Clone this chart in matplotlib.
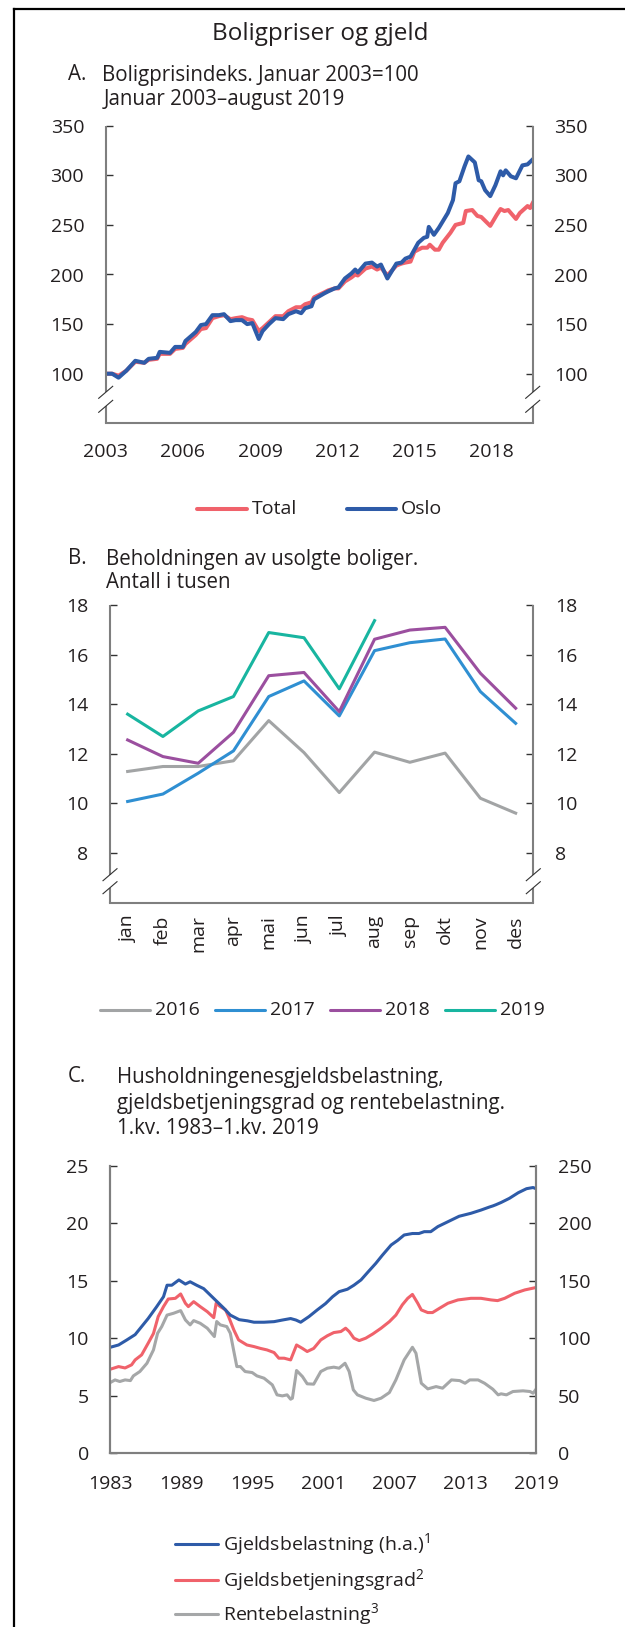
import matplotlib
matplotlib.use("Agg")
import matplotlib.pyplot as plt
from matplotlib.lines import Line2D

plt.rcParams['font.family'] = ['Open Sans', 'DejaVu Sans']
plt.rcParams['mathtext.fontset'] = 'custom'
plt.rcParams['mathtext.rm'] = 'Open Sans'
plt.rcParams['mathtext.it'] = 'Open Sans'
plt.rcParams['mathtext.bf'] = 'Open Sans'
plt.rcParams['mathtext.default'] = 'regular'

# ---------------- Data ----------------
# Panel A: house price index (Jan 2003 = 100)
oslo_t = [2003.0, 2003.25, 2003.5, 2003.8, 2004.15, 2004.5, 2004.67, 2005.0, 2005.1, 2005.5,
          2005.7, 2006.0, 2006.1, 2006.5, 2006.7, 2006.9, 2007.15, 2007.4, 2007.6, 2007.85,
          2008.05, 2008.3, 2008.5, 2008.7, 2008.95, 2009.1, 2009.35, 2009.6, 2009.9, 2010.1,
          2010.4, 2010.6, 2010.75, 2011.0, 2011.1, 2011.5, 2011.65, 2011.9, 2012.05, 2012.3,
          2012.55, 2012.7, 2012.8, 2013.1, 2013.35, 2013.55, 2013.7, 2013.95, 2014.3, 2014.5,
          2014.65, 2014.85, 2015.15, 2015.37, 2015.5, 2015.56, 2015.76, 2015.95, 2016.3, 2016.5,
          2016.6, 2016.75, 2016.95, 2017.1, 2017.35, 2017.5, 2017.6, 2017.75, 2017.95, 2018.15,
          2018.35, 2018.45, 2018.55, 2018.75, 2018.95, 2019.2, 2019.4, 2019.6]
oslo = [100, 100, 96, 103, 113, 111, 115, 116, 122, 121,
        127, 127, 133, 142, 149, 150, 159, 159, 160, 153,
        154, 154, 150, 151, 135, 143, 150, 156, 155, 160,
        163, 161, 166, 168, 175, 181, 183, 186, 187, 196,
        201, 205, 202, 211, 212, 208, 210, 196, 211, 212,
        216, 218, 232, 237, 238, 248, 240, 247, 262, 275,
        292, 294, 309, 319, 313, 295, 294, 285, 279, 290,
        304, 300, 305, 299, 297, 310, 311, 316]
total_t = [2003.0, 2003.25, 2003.5, 2003.8, 2004.15, 2004.5, 2004.67, 2005.0, 2005.1, 2005.5,
           2005.7, 2006.0, 2006.1, 2006.5, 2006.7, 2006.9, 2007.15, 2007.4, 2007.6, 2007.85,
           2008.05, 2008.3, 2008.5, 2008.7, 2008.95, 2009.1, 2009.35, 2009.6, 2009.9, 2010.1,
           2010.4, 2010.6, 2010.75, 2011.0, 2011.1, 2011.5, 2011.65, 2011.9, 2012.05, 2012.3,
           2012.55, 2012.7, 2012.8, 2013.1, 2013.35, 2013.55, 2013.7, 2013.95, 2014.3, 2014.5,
           2014.65, 2014.85, 2015.0, 2015.3, 2015.5, 2015.6, 2015.8, 2015.95, 2016.1, 2016.4,
           2016.6, 2016.9, 2017.0, 2017.25, 2017.45, 2017.6, 2017.95, 2018.2, 2018.35, 2018.5,
           2018.65, 2018.95, 2019.1, 2019.4, 2019.5, 2019.6]
total = [100, 100, 98, 103, 112, 111, 114, 115, 120, 120,
         125, 126, 130, 139, 145, 146, 156, 158, 159, 155,
         156, 157, 155, 154, 143, 146, 152, 158, 158, 163,
         167, 167, 170, 172, 177, 182, 184, 186, 186, 193,
         197, 200, 199, 206, 208, 205, 207, 199, 209, 211,
         212, 213, 223, 227, 227, 230, 225, 225, 232, 242,
         250, 252, 264, 265, 259, 258, 249, 260, 266, 264,
         265, 256, 262, 269, 267, 272]
a_xticks = [2003, 2006, 2009, 2012, 2015, 2018]
a_yticks = [100, 150, 200, 250, 300, 350]

# Panel B: unsold homes (thousands)
months = ['jan', 'feb', 'mar', 'apr', 'mai', 'jun', 'jul', 'aug', 'sep', 'okt', 'nov', 'des']
y2016 = [11.29, 11.49, 11.49, 11.72, 13.34, 12.05, 10.44, 12.07, 11.66, 12.03, 10.21, 9.61]
y2017 = [10.08, 10.38, 11.22, 12.12, 14.31, 14.94, 13.53, 16.16, 16.48, 16.63, 14.51, 13.23]
y2018 = [12.56, 11.89, 11.62, 12.87, 15.15, 15.28, 13.70, 16.62, 16.99, 17.10, 15.25, 13.84]
y2019 = [13.60, 12.70, 13.73, 14.31, 16.89, 16.68, 14.62, 17.37]
b_yticks = [8, 10, 12, 14, 16, 18]

# Panel C: household debt burden etc.
gb_t = [1983.0, 1983.7, 1984.4, 1985.1, 1985.65, 1986.2, 1986.9, 1987.5, 1987.8, 1988.2,
        1988.8, 1989.35, 1989.75, 1990.3, 1990.9, 1991.45, 1992.0, 1992.6, 1993.15, 1993.9,
        1994.6, 1995.15, 1996.0, 1996.85, 1997.55, 1998.25, 1998.7, 1999.1, 1999.8, 2000.5,
        2001.2, 2001.8, 2002.35, 2003.05, 2003.6, 2004.2, 2004.75, 2005.45, 2006.0, 2006.75,
        2007.3, 2007.85, 2008.55, 2009.1, 2009.55, 2010.1, 2010.7, 2011.5, 2012.5, 2013.5,
        2014.35, 2015.05, 2015.35, 2015.6, 2016.05, 2016.75, 2017.5, 2018.2, 2018.75, 2019.0]
gjeldsbelastning = [92, 94, 98.4, 103, 110, 117, 127, 136, 146, 146,
                    150.6, 147, 149, 146, 143, 137.5, 132, 126, 120, 116,
                    115, 113.8, 113.8, 114.3, 115.7, 117, 115.7, 113.8, 118.7, 124.5,
                    130, 136, 140.4, 142.5, 146, 150.6, 157, 165, 172, 181,
                    185, 189.7, 191, 191, 192.6, 192.6, 197, 201, 206, 208.6,
                    211.4, 214, 215, 216, 218, 221.6, 226.5, 230, 231, 230]
gg_t = [1983.0, 1983.7, 1984.25, 1984.8, 1985.1, 1985.65, 1986.2, 1986.65, 1987.05, 1987.5,
        1987.9, 1988.5, 1988.95, 1989.35, 1989.6, 1990.05, 1990.6, 1991.2, 1991.75, 1991.95,
        1992.3, 1992.75, 1993.0, 1993.45, 1993.85, 1994.55, 1995.15, 1995.7, 1996.25, 1996.85,
        1997.25, 1997.7, 1998.25, 1998.75, 1999.25, 1999.65, 2000.2, 2000.8, 2001.35, 2001.9,
        2002.5, 2002.9, 2003.2, 2003.6, 2004.05, 2004.6, 2005.2, 2005.9, 2006.6, 2007.15,
        2007.7, 2008.15, 2008.55, 2009.0, 2009.3, 2009.85, 2010.25, 2010.85, 2011.55, 2012.4,
        2013.5, 2014.35, 2015.2, 2015.75, 2016.35, 2017.2, 2018.05, 2019.0]
gjeldsbetjeningsgrad = [7.29, 7.52, 7.40, 7.67, 8.10, 8.54, 9.55, 10.40, 11.87, 12.74,
                        13.40, 13.46, 13.84, 13.03, 12.74, 13.17, 12.74, 12.30, 11.78, 13.03,
                        12.74, 12.45, 11.87, 10.70, 9.84, 9.40, 9.26, 9.10, 8.97, 8.74,
                        8.25, 8.25, 8.10, 9.40, 9.10, 8.83, 9.10, 9.84, 10.20, 10.48,
                        10.57, 10.86, 10.57, 9.99, 9.78, 9.99, 10.36, 10.86, 11.43, 12.00,
                        12.90, 13.46, 13.80, 13.03, 12.45, 12.22, 12.22, 12.60, 13.03, 13.32,
                        13.46, 13.46, 13.32, 13.26, 13.46, 13.90, 14.19, 14.40]
rb_t = [1983.0, 1983.4, 1983.8, 1984.25, 1984.7, 1984.95, 1985.5, 1986.1, 1986.65, 1987.0,
        1987.35, 1987.8, 1988.35, 1988.95, 1989.35, 1989.75, 1990.05, 1990.6, 1991.2, 1991.8,
        1992.0, 1992.3, 1992.85, 1993.15, 1993.45, 1993.7, 1994.0, 1994.4, 1995.0, 1995.4,
        1996.0, 1996.7, 1997.1, 1997.55, 1997.95, 1998.25, 1998.4, 1998.75, 1999.25, 1999.65,
        2000.2, 2000.8, 2001.35, 2001.9, 2002.35, 2002.85, 2003.2, 2003.55, 2003.9, 2004.6,
        2005.3, 2005.9, 2006.6, 2007.15, 2007.85, 2008.55, 2008.85, 2009.3, 2009.85, 2010.55,
        2011.1, 2011.85, 2012.55, 2013.0, 2013.4, 2014.1, 2014.65, 2015.35, 2015.8, 2016.05,
        2016.5, 2017.05, 2017.9, 2018.5, 2018.75, 2019.0]
rentebelastning = [6.13, 6.36, 6.22, 6.36, 6.30, 6.71, 7.09, 7.81, 8.97, 10.42,
                   11.00, 12.00, 12.16, 12.39, 11.58, 11.15, 11.52, 11.29, 10.86, 10.13,
                   11.44, 11.15, 11.00, 10.42, 8.83, 7.52, 7.52, 7.09, 7.00, 6.71,
                   6.51, 5.93, 5.06, 4.97, 5.06, 4.68, 4.77, 7.18, 6.65, 6.02,
                   5.99, 7.09, 7.38, 7.47, 7.38, 7.81, 7.09, 5.50, 5.06, 4.77,
                   4.57, 4.77, 5.26, 6.36, 8.10, 9.20, 8.68, 6.07, 5.58, 5.78,
                   5.64, 6.36, 6.30, 6.07, 6.36, 6.36, 6.07, 5.55, 5.06, 5.15,
                   5.06, 5.35, 5.41, 5.35, 5.20, 5.55]
c_xticks = [1983, 1989, 1995, 2001, 2007, 2013, 2019]
c_yticks = [0, 5, 10, 15, 20, 25]
c_y2ticks = [0, 50, 100, 150, 200, 250]

assert len(oslo_t) == len(oslo) and len(total_t) == len(total)
assert len(gb_t) == len(gjeldsbelastning) and len(gg_t) == len(gjeldsbetjeningsgrad)
assert len(rb_t) == len(rentebelastning)

# ---------------- Style ----------------
RED = '#F0626B'
BLUE = '#2E5BA8'
C16 = '#A2A4A5'
C17 = '#2F8FD2'
C18 = '#9B4F9F'
C19 = '#18B5A0'
GRAY = '#A5A7A8'
TXT = '#231F20'
SPC = '#7F7F7F'
FS = 14
TFS = 14.8

W, H = 625, 1627
fig = plt.figure(figsize=(W / 100, H / 100), dpi=100)


def fx(px):
    return px / W


def fy(py):
    return 1 - py / H


def make_axes(l, r, t, b):
    return fig.add_axes([fx(l), fy(b), (r - l) / W, (b - t) / H])


def style(ax, xpad):
    for s in ax.spines.values():
        s.set_color(SPC)
        s.set_linewidth(1.5)
    ax.spines['top'].set_visible(False)
    ax.tick_params(axis='y', which='both', direction='in', length=5, width=1,
                   color='#333333', labelsize=FS, labelcolor=TXT, pad=15.5,
                   left=True, right=True, labelleft=True, labelright=True)
    ax.tick_params(axis='x', length=0, labelsize=FS, labelcolor=TXT, pad=xpad)


def broken_spines(ax, wpx, hpx, g1=17, g2=31):
    ax.spines['left'].set_visible(False)
    ax.spines['right'].set_visible(False)
    y1, y2 = g1 / hpx, g2 / hpx
    dx, dy = 7 / wpx, 6 / hpx
    for x in (0, 1):
        ax.plot([x, x], [y2, 1], transform=ax.transAxes, color=SPC, lw=1.5,
                clip_on=False, solid_capstyle='butt')
        ax.plot([x, x], [0, y1], transform=ax.transAxes, color=SPC, lw=1.5,
                clip_on=False, solid_capstyle='butt')
        for yc in (y1, y2):
            ax.plot([x - dx, x + dx], [yc - dy, yc + dy], transform=ax.transAxes,
                    color='#333333', lw=0.8, clip_on=False)


def legend_row(items, y, lw):
    for x0, x1, xt, col, lab in items:
        fig.add_artist(Line2D([fx(x0), fx(x1)], [fy(y), fy(y)], color=col, lw=lw,
                              transform=fig.transFigure, solid_capstyle='round'))
        fig.text(fx(xt), fy(y), lab, ha='left', va='center', fontsize=FS, color=TXT)


# Frame
fig.add_artist(Line2D([fx(13.5), 1.0], [fy(9), fy(9)], color='black', lw=1.6,
                      transform=fig.transFigure))
fig.add_artist(Line2D([fx(13.5), fx(13.5)], [fy(9), 0.0], color='black', lw=1.6,
                      transform=fig.transFigure))

# Titles
fig.text(fx(320), fy(34), 'Boligpriser og gjeld', ha='center', va='center',
         fontsize=17.5, color=TXT)

fig.text(fx(67.5), fy(75), 'A.', ha='left', va='center', fontsize=TFS, color=TXT)
fig.text(fx(102), fy(75), 'Boligprisindeks. Januar 2003=100', ha='left', va='center',
         fontsize=TFS, color=TXT)
fig.text(fx(104), fy(99), 'Januar 2003–august 2019', ha='left', va='center',
         fontsize=TFS, color=TXT)

fig.text(fx(67.5), fy(559), 'B.', ha='left', va='center', fontsize=TFS, color=TXT)
fig.text(fx(106), fy(559), 'Beholdningen av usolgte boliger.', ha='left', va='center',
         fontsize=TFS, color=TXT)
fig.text(fx(106), fy(583), 'Antall i tusen', ha='left', va='center',
         fontsize=TFS, color=TXT)

fig.text(fx(67.5), fy(1077), 'C.', ha='left', va='center', fontsize=TFS, color=TXT)
for yy, line in zip([1077, 1103, 1129],
                    ['Husholdningenesgjeldsbelastning,',
                     'gjeldsbetjeningsgrad og rentebelastning.',
                     '1.kv. 1983–1.kv. 2019']):
    fig.text(fx(117), fy(yy), line, ha='left', va='center', fontsize=TFS, color=TXT)

# ---------------- Panel A ----------------
axA = make_axes(105.7, 532.7, 125.7, 423.3)
style(axA, 14)
axA.plot(total_t, total, color=RED, lw=2.9, solid_joinstyle='round')
axA.plot(oslo_t, oslo, color=BLUE, lw=2.9, solid_joinstyle='round')
axA.set_xlim(2003.0, 2019.6)
axA.set_ylim(50, 350)
axA.set_yticks(a_yticks)
axA.set_xticks(a_xticks)
axA.set_xticklabels([str(v) for v in a_xticks])
broken_spines(axA, 427, 297.6)

legend_row([(197, 247, 252, RED, 'Total'), (347, 396, 401, BLUE, 'Oslo')], 509, 2.9)

# ---------------- Panel B ----------------
axB = make_axes(110, 533.3, 605, 902.7)
style(axB, 9)
xm = list(range(len(months)))
axB.plot(xm, y2016, color=C16, lw=2.2)
axB.plot(xm, y2017, color=C17, lw=2.2)
axB.plot(xm, y2018, color=C18, lw=2.2)
axB.plot(xm[:len(y2019)], y2019, color=C19, lw=2.2)
axB.set_xlim(-0.5, 11.5)
axB.set_ylim(6, 18)
axB.set_yticks(b_yticks)
axB.set_xticks(xm)
axB.set_xticklabels(months, rotation=90)
broken_spines(axB, 423.3, 297.7, 15, 28)

legend_row([(100, 150, 155, C16, '2016'), (215, 265, 270, C17, '2017'),
            (330, 380, 385, C18, '2018'), (445, 495, 500, C19, '2019')], 1010, 2.2)

# ---------------- Panel C ----------------
axC = make_axes(110.3, 536, 1165.7, 1453)
style(axC, 16)
axC.tick_params(axis='y', right=False, labelright=False)
axC.plot(rb_t, rentebelastning, color=GRAY, lw=2.2)
axC.plot(gg_t, gjeldsbetjeningsgrad, color=RED, lw=2.2)
axC.set_xlim(1983, 2019)
axC.set_ylim(0, 25)
axC.set_yticks(c_yticks)
axC.set_xticks(c_xticks)
axC.set_xticklabels([str(v) for v in c_xticks])
axC2 = axC.twinx()
axC2.plot(gb_t, gjeldsbelastning, color=BLUE, lw=2.2)
axC2.set_ylim(0, 250)
axC2.set_yticks(c_y2ticks)
for s in axC2.spines.values():
    s.set_color(SPC)
    s.set_linewidth(1.5)
axC2.spines['top'].set_visible(False)
axC2.tick_params(axis='y', direction='in', length=5, width=1, color='#333333',
                 labelsize=FS, labelcolor=TXT, pad=15.5)

legend_row([(175, 218, 223, BLUE, r'Gjeldsbelastning (h.a.)$^{1}$')], 1544, 2.2)
legend_row([(175, 218, 223, RED, r'Gjeldsbetjeningsgrad$^{2}$')], 1580, 2.2)
legend_row([(175, 218, 223, GRAY, r'Rentebelastning$^{3}$')], 1614, 2.2)

fig.savefig('out.png', dpi=100)
